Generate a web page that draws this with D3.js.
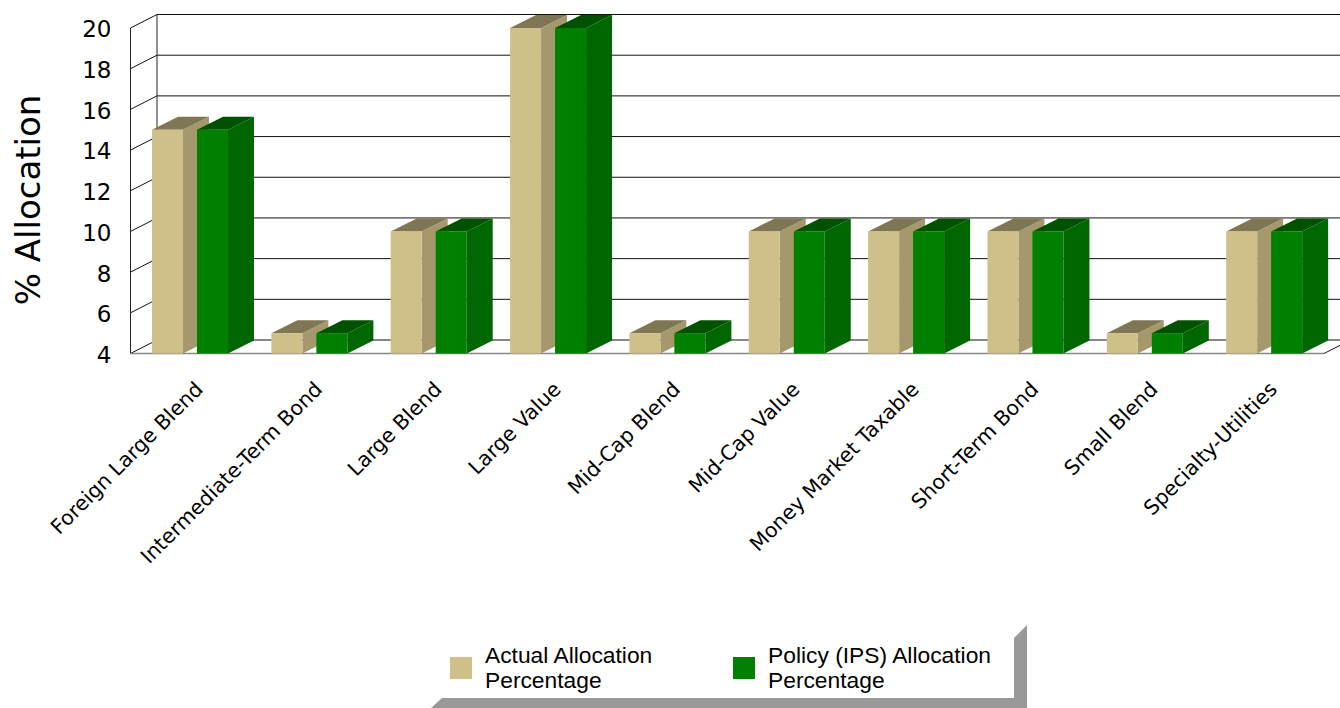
<!DOCTYPE html>
<html>
<head>
<meta charset="utf-8">
<script src="https://cdn.jsdelivr.net/npm/d3@7"></script>
<style>
html, body { margin: 0; padding: 0; background: #fff; overflow: hidden; }
svg { display: block; }
</style>
</head>
<body>
<script>
var categories = ["Foreign Large Blend", "Intermediate-Term Bond", "Large Blend", "Large Value", "Mid-Cap Blend",
                  "Mid-Cap Value", "Money Market Taxable", "Short-Term Bond", "Small Blend", "Specialty-Utilities"];
var actualValues = [15, 5, 10, 20, 5, 10, 10, 10, 5, 10];
var policyValues = [15, 5, 10, 20, 5, 10, 10, 10, 5, 10];
var yTicks = [4, 6, 8, 10, 12, 14, 16, 18, 20];
var seriesNames = ["Actual Allocation Percentage", "Policy (IPS) Allocation Percentage"];

var w = 1340, h = 708;
var left = 130.5, right = 1324, bottom = 353.5, top20 = 28;
var wallX = 26.5, wallY = 13.5;   // depth of the back wall
var barX = 26, barY = 13;         // depth of a bar

var svg = d3.select("body").append("svg").attr("width", w).attr("height", h);

var x = d3.scaleBand().domain(categories).range([left, right]);
var xInner = d3.scaleBand().domain([0, 1]).range([21.5, 97.5]).paddingInner(14 / 45);
var y = d3.scaleLinear().domain([4, 20]).range([bottom, top20]);

//back wall gridlines and the slanted bits on the left wall
svg.selectAll("line.grid")
   .data(yTicks)
   .enter()
   .append("line")
   .attr("class", "grid")
   .attr("x1", left + wallX)
   .attr("x2", w)
   .attr("y1", function(d) { return y(d) - wallY; })
   .attr("y2", function(d) { return y(d) - wallY; })
   .attr("stroke", "#111")
   .attr("stroke-width", 1);

svg.selectAll("line.slant")
   .data(yTicks)
   .enter()
   .append("line")
   .attr("class", "slant")
   .attr("x1", left)
   .attr("x2", left + wallX)
   .attr("y1", function(d) { return y(d); })
   .attr("y2", function(d) { return y(d) - wallY; })
   .attr("stroke", "#111")
   .attr("stroke-width", 1);

//wall verticals
svg.append("line").attr("x1", left).attr("x2", left).attr("y1", y(20)).attr("y2", y(4)).attr("stroke", "#222");
svg.append("line").attr("x1", left + wallX).attr("x2", left + wallX).attr("y1", y(20) - wallY).attr("y2", y(4) - wallY).attr("stroke", "#222");

//floor
svg.append("line").attr("x1", left).attr("x2", right).attr("y1", y(4)).attr("y2", y(4)).attr("stroke", "#888").attr("stroke-width", 1.5);
svg.append("line").attr("x1", right).attr("x2", right + wallX).attr("y1", y(4)).attr("y2", y(4) - wallY).attr("stroke", "#111");

//bars
var barColors = [
    {front: "#cfc08a", side: "#a6986d", top: "#7f7654"},
    {front: "#008000", side: "#006600", top: "#005200"}
];

function drawSeries(values, s) {
    var g = svg.append("g");
    var c = barColors[s];
    var bw = xInner.bandwidth();
    values.forEach(function(d, i) {
        var x0 = x(categories[i]) + xInner(s);
        var y0 = y(d);
        g.append("polygon")
         .attr("points", [[x0 + bw, y0], [x0 + bw + barX, y0 - barY], [x0 + bw + barX, y(4) - barY], [x0 + bw, y(4)]].join(" "))
         .attr("fill", c.side);
        g.append("polygon")
         .attr("points", [[x0, y0], [x0 + barX, y0 - barY], [x0 + bw + barX, y0 - barY], [x0 + bw, y0]].join(" "))
         .attr("fill", c.top);
        g.append("rect")
         .attr("x", x0)
         .attr("y", y0)
         .attr("width", bw)
         .attr("height", y(4) - y0)
         .attr("fill", c.front);
    });
}
drawSeries(actualValues, 0);
drawSeries(policyValues, 1);

//axes
var yAxis = svg.append("g")
   .attr("transform", "translate(" + left + ",1.5)")
   .call(d3.axisLeft(y).tickValues(yTicks).tickSize(0).tickPadding(19));
yAxis.select(".domain").remove();
yAxis.selectAll("text")
   .attr("fill", "#000")
   .style("font-family", "DejaVu Sans")
   .style("font-size", "23px");

var xAxis = svg.append("g")
   .attr("transform", "translate(0," + y(4) + ")")
   .call(d3.axisBottom(x).tickSize(0));
xAxis.select(".domain").remove();
xAxis.selectAll("text")
   .attr("fill", "#000")
   .style("font-family", "DejaVu Sans")
   .style("font-size", "20.5px")
   .style("text-anchor", "end")
   .attr("dy", null)
   .attr("y", 0)
   .attr("transform", "translate(14,37) rotate(-45)");

svg.append("text")
   .attr("transform", "translate(40,200) rotate(-90)")
   .attr("text-anchor", "middle")
   .style("font-family", "DejaVu Sans")
   .style("font-size", "34px")
   .text("% Allocation");

//legend box
svg.append("polygon")
   .attr("points", "431,708 442,698 1014,698 1014,638 1027,625 1027,708")
   .attr("fill", "#999");

var legendX = [450, 733];
var legendLines = [["Actual Allocation", "Percentage"], ["Policy (IPS) Allocation", "Percentage"]];
legendX.forEach(function(lx, i) {
    svg.append("rect")
       .attr("x", lx)
       .attr("y", 657)
       .attr("width", 22)
       .attr("height", 22)
       .attr("fill", barColors[i].front);
    legendLines[i].forEach(function(t, j) {
        svg.append("text")
           .attr("x", lx + 35)
           .attr("y", 663 + j * 25)
           .style("font-family", "Liberation Sans")
           .style("font-size", "22.8px")
           .text(t);
    });
});
</script>
</body>
</html>
